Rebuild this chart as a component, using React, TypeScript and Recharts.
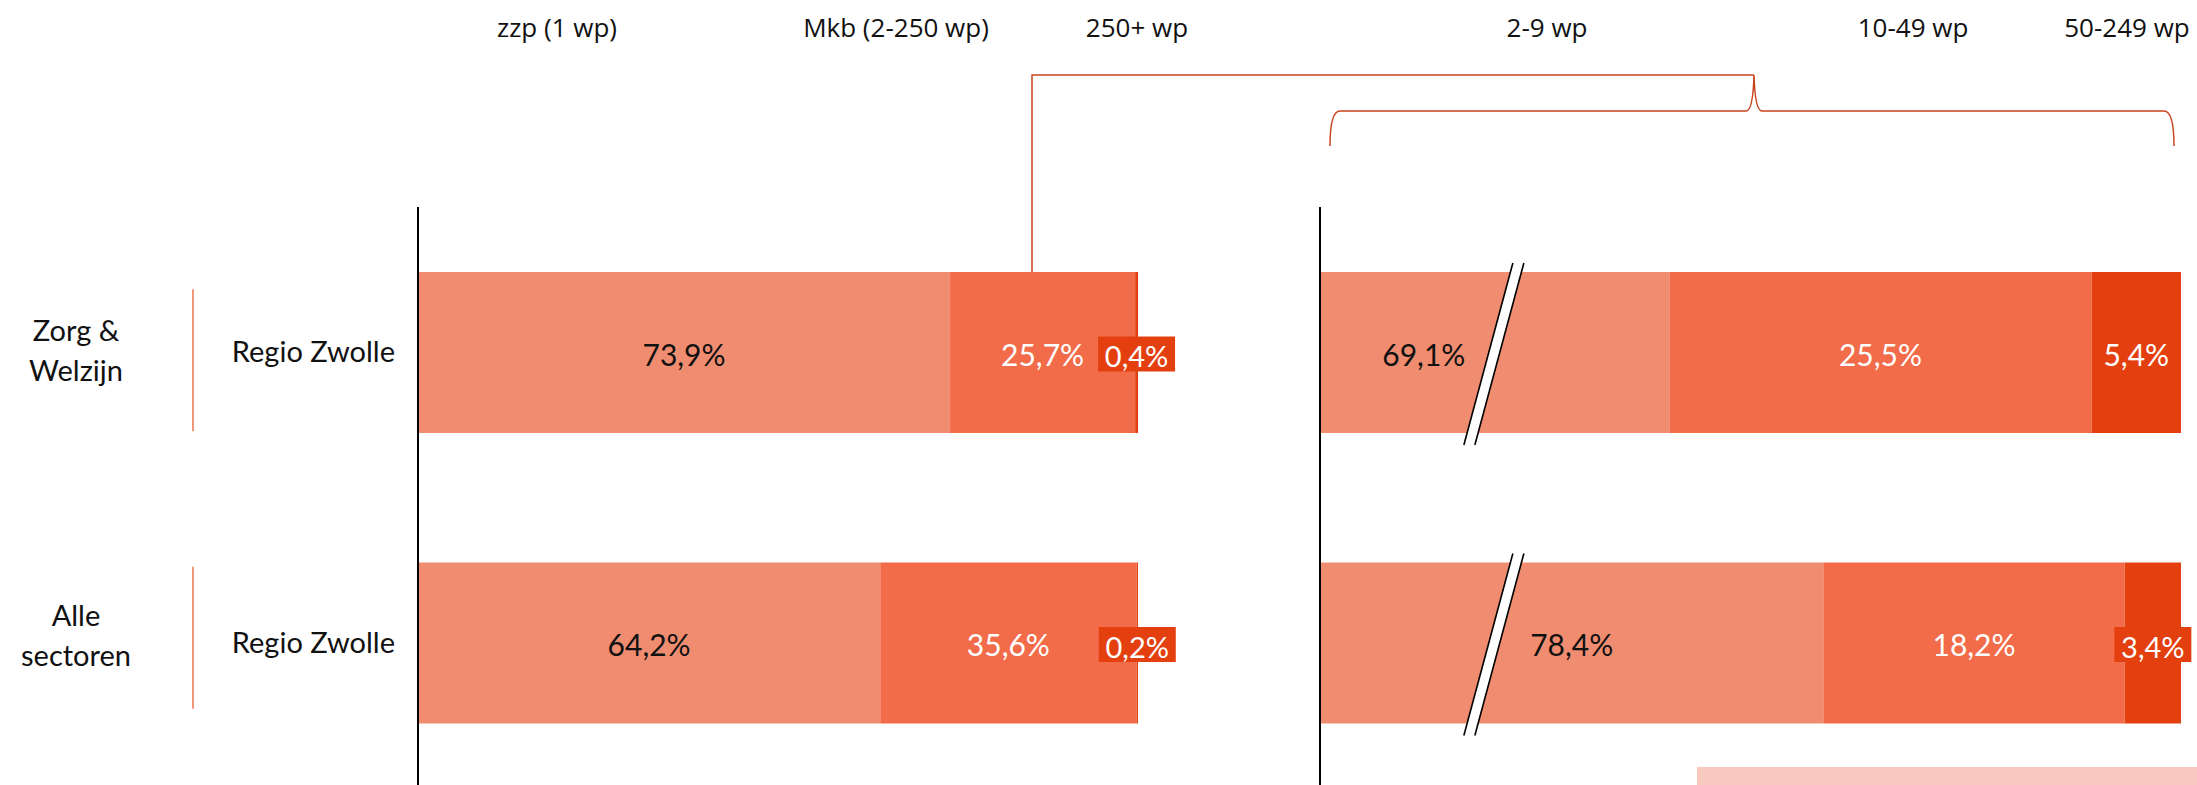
import React from 'react';
import { BarChart, Bar, XAxis, YAxis, LabelList } from 'recharts';

// rijen
const sectorLines = [['Zorg &', 'Welzijn'], ['Alle', 'sectoren']];
const sectors = ['Zorg & Welzijn', 'Alle sectoren'];
const regions = ['Regio Zwolle', 'Regio Zwolle'];

// links: bedrijfsgrootte (aandeel %)
const zzp = [73.9, 64.2];
const mkb = [25.7, 35.6];
const groot = [0.4, 0.2];

// rechts: opsplitsing mkb (aandeel %)
const wp2to9 = [69.1, 78.4];
const wp10to49 = [25.5, 18.2];
const wp50to249 = [5.4, 3.4];

const headers = ['zzp (1 wp)', 'Mkb (2-250 wp)', '250+ wp', '2-9 wp', '10-49 wp', '50-249 wp'];
const headerX = [557, 896, 1137, 1547, 1913, 2127];

// kleine verschuivingen van de sectorlabels per rij (opmaak)
const groupTextOff = [0, -6];
const groupLineOff = [8, -5];

// stuk dat uit de 2-9 wp balk is weggelaten (asbreuk)
const AXIS_BREAK = 48;
const BREAK_AT = 10.5;

const LIGHT = '#F08D70';
const MID = '#F26C4A';
const DARK = '#E4400F';
const BRACKET = '#C8441F';
const FONT = 'Lato, "Open Sans", sans-serif';

const leftData = sectors.map((name, i) => ({ name, zzp: zzp[i], mkb: mkb[i], groot: groot[i] }));
const rightData = sectors.map((name, i) => ({
  name,
  klein: wp2to9[i] - AXIS_BREAK,
  middel: wp10to49[i],
  mkbGroot: wp50to249[i],
}));

const fmt = (v: number) => v.toFixed(1).replace('.', ',') + '%';

function segLabel(values: number[], color: string) {
  return (p: any) => {
    const { x, y, width, height, index } = p;
    const cx = x + width / 2;
    const cy = y + height / 2;
    const text = fmt(values[index]);
    const boxW = 77;
    if (width < boxW) {
      return (
        <g>
          <rect x={cx - boxW / 2} y={cy - 16} width={boxW} height={35} fill={DARK} />
          <text x={cx} y={cy + 3} fill="#fff" textAnchor="middle" dominantBaseline="central"
            fontFamily={FONT} fontSize={29}>{text}</text>
        </g>
      );
    }
    return (
      <text x={cx} y={cy + 1} fill={color} textAnchor="middle" dominantBaseline="central"
        fontFamily={FONT} fontSize={30}>{text}</text>
    );
  };
}

function brokenLabel(p: any) {
  const { x, y, width, height, index } = p;
  const unit = width / (wp2to9[index] - AXIS_BREAK);
  const bx = x + BREAK_AT * unit;
  let cx = x + width / 2;
  if (Math.abs(cx - bx) < 60) cx = bx - 70;
  return (
    <text x={cx} y={y + height / 2 + 1} fill="#111" textAnchor="middle" dominantBaseline="central"
      fontFamily={FONT} fontSize={30}>{fmt(wp2to9[index])}</text>
  );
}

function BrokenBar(p: any) {
  const { x, y, width, height, fill, index } = p;
  const unit = width / (wp2to9[index] - AXIS_BREAK);
  const bx = x + BREAK_AT * unit;
  const top = y - 9;
  const bot = y + height + 12;
  const s = 24.5;
  const g = 11;
  return (
    <g>
      <rect x={x} y={y} width={width} height={height} fill={fill} />
      <polygon points={`${bx + s - g / 2},${top} ${bx + s + g / 2},${top} ${bx - s + g / 2},${bot} ${bx - s - g / 2},${bot}`} fill="#fff" />
      <line x1={bx + s - g / 2} y1={top} x2={bx - s - g / 2} y2={bot} stroke="#000" strokeWidth={1.6} />
      <line x1={bx + s + g / 2} y1={top} x2={bx - s + g / 2} y2={bot} stroke="#000" strokeWidth={1.6} />
    </g>
  );
}

function RowTick(p: any) {
  const { y, index } = p;
  const t = y + groupTextOff[index];
  const l = y + groupLineOff[index];
  return (
    <g fontFamily={FONT}>
      <text textAnchor="middle" fontSize={29} fill="#111">
        <tspan x={76} y={t - 11}>{sectorLines[index][0]}</tspan>
        <tspan x={76} y={t + 29}>{sectorLines[index][1]}</tspan>
      </text>
      <line x1={193} x2={193} y1={l - 71} y2={l + 71} stroke="#E8744E" strokeWidth={1.5} />
      <text x={395} y={y + 10} textAnchor="end" fontSize={29} fill="#111">{regions[index]}</text>
    </g>
  );
}

export default function App() {
  return (
    <div style={{ position: 'absolute', left: 0, top: 0, width: 2197, height: 785, overflow: 'hidden', background: '#fff' }}>
      <div style={{ position: 'absolute', left: 0, top: 0 }}>
        <BarChart width={1200} height={800} data={leftData} layout="vertical"
          margin={{ top: 207, right: 62, bottom: 12, left: 0 }}>
          <XAxis type="number" domain={[0, 100]} hide />
          <YAxis type="category" dataKey="name" width={418} tickLine={false}
            axisLine={{ stroke: '#000', strokeWidth: 2 }} tick={RowTick} />
          <Bar dataKey="zzp" stackId="a" fill={LIGHT} barSize={161} isAnimationActive={false}>
            <LabelList dataKey="zzp" content={segLabel(zzp, '#111')} />
          </Bar>
          <Bar dataKey="mkb" stackId="a" fill={MID} barSize={161} isAnimationActive={false}>
            <LabelList dataKey="mkb" content={segLabel(mkb, '#fff')} />
          </Bar>
          <Bar dataKey="groot" stackId="a" fill={DARK} barSize={161} isAnimationActive={false}>
            <LabelList dataKey="groot" content={segLabel(groot, '#fff')} />
          </Bar>
        </BarChart>
      </div>
      <div style={{ position: 'absolute', left: 1200, top: 0 }}>
        <BarChart width={997} height={800} data={rightData} layout="vertical"
          margin={{ top: 207, right: 16, bottom: 12, left: 0 }}>
          <XAxis type="number" domain={[0, 100 - AXIS_BREAK]} hide />
          <YAxis type="category" dataKey="name" width={120} tickLine={false} tick={false}
            axisLine={{ stroke: '#000', strokeWidth: 2 }} />
          <Bar dataKey="klein" stackId="a" fill={LIGHT} barSize={161} shape={BrokenBar} isAnimationActive={false}>
            <LabelList dataKey="klein" content={brokenLabel} />
          </Bar>
          <Bar dataKey="middel" stackId="a" fill={MID} barSize={161} isAnimationActive={false}>
            <LabelList dataKey="middel" content={segLabel(wp10to49, '#fff')} />
          </Bar>
          <Bar dataKey="mkbGroot" stackId="a" fill={DARK} barSize={161} isAnimationActive={false}>
            <LabelList dataKey="mkbGroot" content={segLabel(wp50to249, '#fff')} />
          </Bar>
        </BarChart>
      </div>
      <svg width={2197} height={785} style={{ position: 'absolute', left: 0, top: 0, pointerEvents: 'none' }}>
        {headers.map((h, i) => (
          <text key={h} x={headerX[i]} y={37} textAnchor="middle" fontFamily='"Open Sans", sans-serif'
            fontSize={26} fill="#111">{h}</text>
        ))}
        <polyline points="1032,272 1032,75 1754,75" fill="none" stroke={BRACKET} strokeWidth={1.5} />
        <path d="M1330,146 Q1330,111 1340,111 L1746,111 Q1753,111 1754,75 Q1755,111 1762,111 L2164,111 Q2174,111 2174,146"
          fill="none" stroke={BRACKET} strokeWidth={1.5} />
      </svg>
      <div style={{ position: 'absolute', left: 1697, top: 767, width: 500, height: 18, background: '#F7C9BF' }} />
    </div>
  );
}
